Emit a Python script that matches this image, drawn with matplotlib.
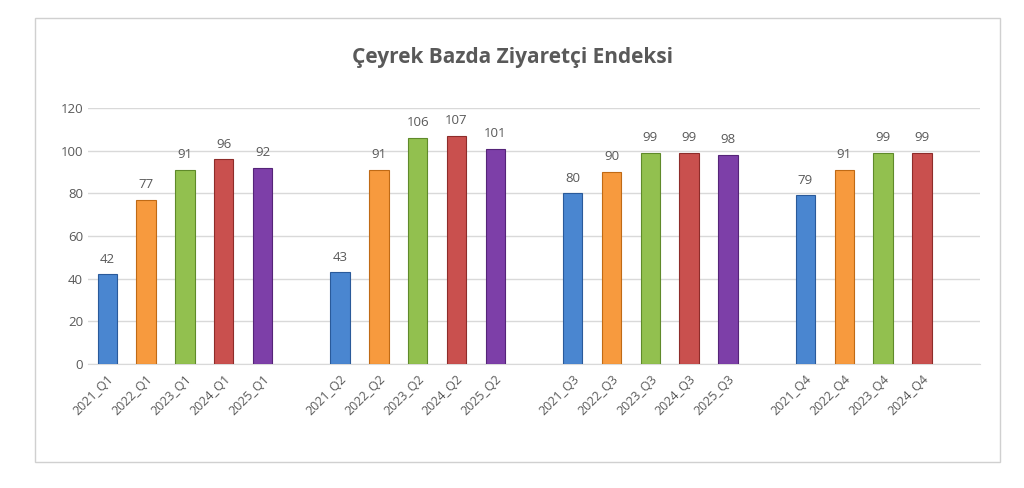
import numpy as np
import matplotlib.pyplot as plt
from matplotlib.patches import Rectangle

# data
labels = ['2021_Q1', '2022_Q1', '2023_Q1', '2024_Q1', '2025_Q1',
          '2021_Q2', '2022_Q2', '2023_Q2', '2024_Q2', '2025_Q2',
          '2021_Q3', '2022_Q3', '2023_Q3', '2024_Q3', '2025_Q3',
          '2021_Q4', '2022_Q4', '2023_Q4', '2024_Q4']
values = [42, 77, 91, 96, 92,
          43, 91, 106, 107, 101,
          80, 90, 99, 99, 98,
          79, 91, 99, 99]
years = [l[:4] for l in labels]

year_colors = {'2021': '#4a86d0', '2022': '#f79a3e', '2023': '#92c04f',
               '2024': '#c9504e', '2025': '#7d3fa8'}
edge_colors = {'2021': '#2a5a9a', '2022': '#c06a15', '2023': '#5f8a2a',
               '2024': '#8e2c2a', '2025': '#552478'}

# slot positions with one empty slot between quarters
pos = []
p = 0
for i, l in enumerate(labels):
    if i > 0 and l[-2:] != labels[i - 1][-2:]:
        p += 1
    pos.append(p)
    p += 1

plt.rcParams['font.family'] = ['Open Sans', 'DejaVu Sans']
fig = plt.figure(figsize=(10.24, 4.88), dpi=100)
fig.patches.append(Rectangle((35 / 1024, 1 - 462 / 488), 965 / 1024, 444 / 488,
                             transform=fig.transFigure, fill=False,
                             edgecolor='#d0d0d0', linewidth=1))
ax = fig.add_axes([88 / 1024, 1 - 364 / 488, 892 / 1024, 256 / 488])

for x, v, y in zip(pos, values, years):
    ax.bar(x, v, width=0.5, color=year_colors[y], edgecolor=edge_colors[y],
           linewidth=0.8, zorder=3)
    ax.text(x, v + 4, str(v), ha='center', va='bottom', fontsize=9.5,
            color='#595959')

ax.set_xlim(-0.5, pos[-1] + 1.5)
ax.set_ylim(0, 120)
ax.set_yticks(range(0, 121, 20))
ax.yaxis.grid(True, color='#d9d9d9', linewidth=1, zorder=0)
ax.set_xticks(pos)
ax.set_xticklabels(labels, rotation=45, ha='right', rotation_mode='anchor',
                   fontsize=9, color='#595959')
ax.tick_params(axis='y', labelsize=9.5, colors='#595959', length=0)
ax.tick_params(axis='x', length=0, pad=6)
for s in ['top', 'right', 'left']:
    ax.spines[s].set_visible(False)
ax.spines['bottom'].set_color('#d9d9d9')

fig.text(512 / 1024, 1 - 57 / 488, 'Çeyrek Bazda Ziyaretçi Endeksi',
         ha='center', va='center', fontsize=15, fontweight='bold',
         color='#595959')

fig.savefig('out.png', dpi=100)
